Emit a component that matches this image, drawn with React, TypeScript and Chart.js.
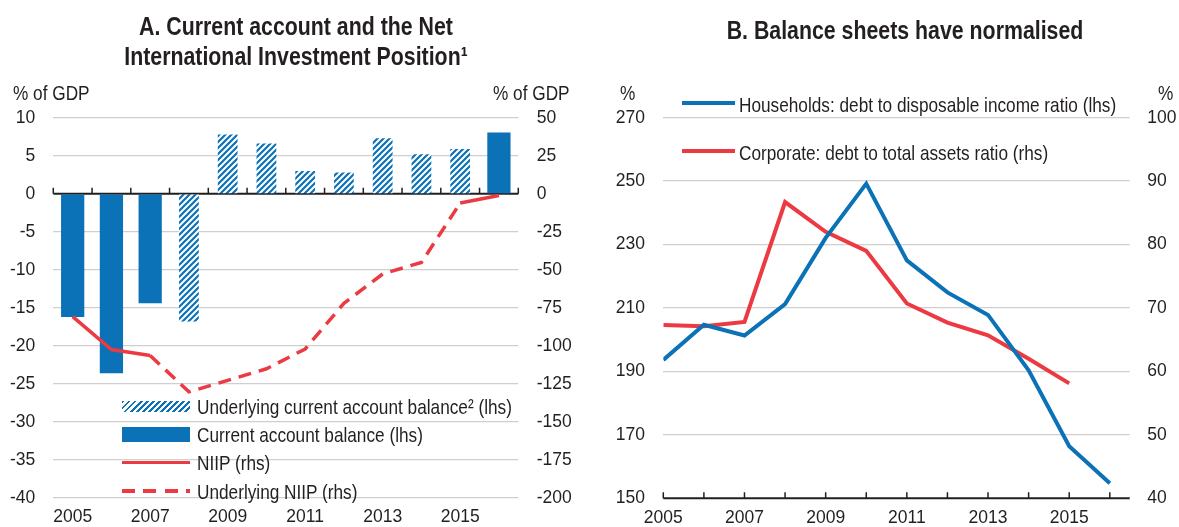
import React, { useEffect, useRef } from "react";
import { Chart, registerables } from "chart.js";

Chart.register(...registerables);

// ---------- Panel A data ----------
const yearsA = ["2005", "2006", "2007", "2008", "2009", "2010", "2011", "2012", "2013", "2014", "2015", "2016"];
const currentAccount = [-16.2, -23.6, -14.4, null, null, null, null, null, null, null, null, 8.05];
const underlyingCurrentAccount = [null, null, null, -16.8, 7.8, 6.6, 3.0, 2.8, 7.3, 5.2, 5.9, null];
const niip = [-80.7, -102.4, -106.3, null, null, null, null, null, null, null, -6.1, -1.1];
const underlyingNiip = [null, null, -106.3, -130.2, -122.6, -115.0, -102.0, -72.0, -52.7, -45.1, -6.1, null];
const leftTicksA = [-40, 10, 5]; // min, max, step
const rightTicksA = [-200, 50, 25];

// ---------- Panel B data ----------
const yearsB = [2005, 2006, 2007, 2008, 2009, 2010, 2011, 2012, 2013, 2014, 2015, 2016];
const households = [193.6, 204.7, 201.3, 211.2, 232.1, 249.2, 225.0, 214.9, 207.8, 190.3, 166.4, 154.7];
const corporate = [67.3, 67.1, 67.8, 86.7, 82.0, 79.0, 70.7, 67.7, 65.7, 62.0, 58.1];
const leftTicksB = [150, 270, 20];
const rightTicksB = [40, 100, 10];

const FONT = "'Liberation Sans', Arial, Helvetica, sans-serif";
const TICK_SIZE = 17.5;
const NARROW = 0.82;
const TEXT = "#231f20";
const BLUE = "#0b72b8";
const RED = "#ec3a42";
const GRID = "#cfcfcf";

function makeHatch(): CanvasPattern | string {
  const c = document.createElement("canvas");
  c.width = 6;
  c.height = 6;
  const g = c.getContext("2d");
  if (!g) return BLUE;
  g.fillStyle = "#ffffff";
  g.fillRect(0, 0, 6, 6);
  g.strokeStyle = BLUE;
  g.lineWidth = 2.2;
  g.beginPath();
  g.moveTo(-1, 7);
  g.lineTo(7, -1);
  g.moveTo(-1, 1);
  g.lineTo(1, -1);
  g.moveTo(5, 7);
  g.lineTo(7, 5);
  g.stroke();
  return g.createPattern(c, "repeat") || BLUE;
}

const zeroAxisPlugin = {
  id: "zeroAxisA",
  beforeDatasetsDraw(chart: any) {
    const { ctx, chartArea } = chart;
    const y = chart.scales.y.getPixelForValue(0);
    const xs = chart.scales.x;
    const n = yearsA.length;
    const step = (xs.right - xs.left) / n;
    ctx.save();
    ctx.strokeStyle = TEXT;
    ctx.lineWidth = 2;
    ctx.beginPath();
    ctx.moveTo(chartArea.left, y);
    ctx.lineTo(chartArea.right, y);
    ctx.stroke();
    ctx.lineWidth = 1.5;
    ctx.beginPath();
    for (let i = 0; i <= n; i++) {
      const x = xs.left + i * step;
      ctx.moveTo(x, y);
      ctx.lineTo(x, y - 6);
    }
    ctx.stroke();
    ctx.restore();
  },
};

const bottomAxisPlugin = {
  id: "bottomAxisB",
  beforeDatasetsDraw(chart: any) {
    const { ctx, chartArea } = chart;
    const xs = chart.scales.x;
    const y = chartArea.bottom;
    ctx.save();
    ctx.strokeStyle = TEXT;
    ctx.lineWidth = 2;
    ctx.beginPath();
    ctx.moveTo(chartArea.left, y);
    ctx.lineTo(chartArea.right, y);
    ctx.stroke();
    ctx.lineWidth = 1.5;
    ctx.beginPath();
    xs.ticks.forEach((t: any) => {
      const x = xs.getPixelForValue(t.value);
      ctx.moveTo(x, y);
      ctx.lineTo(x, y - 6);
    });
    ctx.stroke();
    ctx.restore();
  },
};

const tickFont = { family: FONT, size: TICK_SIZE };

function PanelA() {
  const ref = useRef<HTMLCanvasElement>(null);
  useEffect(() => {
    if (!ref.current) return;
    const hatch = makeHatch();
    const chart = new Chart(ref.current, {
      type: "bar",
      data: {
        labels: yearsA,
        datasets: [
          {
            type: "line",
            label: "NIIP (rhs)",
            data: niip,
            yAxisID: "yR",
            borderColor: RED,
            borderWidth: 3.5,
            pointRadius: 0,
            spanGaps: false,
            order: 0,
          } as any,
          {
            type: "line",
            label: "Underlying NIIP (rhs)",
            data: underlyingNiip,
            yAxisID: "yR",
            borderColor: RED,
            borderWidth: 3.5,
            borderDash: [13, 8],
            pointRadius: 0,
            spanGaps: false,
            order: 0,
          } as any,
          {
            type: "bar",
            label: "Current account balance (lhs)",
            data: currentAccount,
            yAxisID: "y",
            backgroundColor: BLUE,
            barPercentage: 0.6,
            categoryPercentage: 1,
            grouped: false,
            order: 1,
          } as any,
          {
            type: "bar",
            label: "Underlying current account balance² (lhs)",
            data: underlyingCurrentAccount,
            yAxisID: "y",
            backgroundColor: hatch,
            barPercentage: 0.51,
            categoryPercentage: 1,
            grouped: false,
            order: 1,
          } as any,
        ],
      },
      options: {
        responsive: false,
        animation: false,
        events: [],
        layout: { padding: { top: 117.7, left: 0, right: 0, bottom: 0 } },
        plugins: { legend: { display: false }, tooltip: { enabled: false } },
        scales: {
          x: {
            type: "category",
            offset: true,
            grid: { display: false, drawTicks: false },
            border: { display: false },
            ticks: {
              autoSkip: false,
              maxRotation: 0,
              padding: 9,
              color: TEXT,
              font: tickFont,
              callback: (_v: any, i: number) => (i % 2 === 0 ? yearsA[i] : ""),
            },
            afterFit: (s: any) => {
              s.height = 26.3;
            },
          },
          y: {
            position: "left",
            min: leftTicksA[0],
            max: leftTicksA[1],
            ticks: { stepSize: leftTicksA[2], padding: 18, color: TEXT, font: tickFont },
            grid: {
              drawTicks: false,
              lineWidth: 1.3,
              color: (c: any) => (c.tick && c.tick.value === 0 ? "rgba(0,0,0,0)" : GRID),
            },
            border: { display: false },
            afterFit: (s: any) => {
              s.width = 53.3;
            },
          },
          yR: {
            position: "right",
            min: rightTicksA[0],
            max: rightTicksA[1],
            ticks: { stepSize: rightTicksA[2], padding: 18.4, color: TEXT, font: tickFont },
            grid: { display: false, drawTicks: false },
            border: { display: false },
            afterFit: (s: any) => {
              s.width = 71.7;
            },
          },
        } as any,
      },
      plugins: [zeroAxisPlugin],
    });
    return () => chart.destroy();
  }, []);
  return (
    <canvas
      ref={ref}
      width={590}
      height={527}
      style={{ position: "absolute", left: 0, top: 0, width: 590, height: 527 }}
    />
  );
}

function PanelB() {
  const ref = useRef<HTMLCanvasElement>(null);
  useEffect(() => {
    if (!ref.current) return;
    const chart = new Chart(ref.current, {
      type: "line",
      data: {
        datasets: [
          {
            label: "Households: debt to disposable income ratio (lhs)",
            data: yearsB.map((x, i) => ({ x, y: households[i] })),
            yAxisID: "y",
            borderColor: BLUE,
            borderWidth: 4,
            pointRadius: 0,
          },
          {
            label: "Corporate: debt to total assets ratio (rhs)",
            data: corporate.map((v, i) => ({ x: yearsB[i], y: v })),
            yAxisID: "y2",
            borderColor: RED,
            borderWidth: 4,
            pointRadius: 0,
          },
        ],
      },
      options: {
        responsive: false,
        animation: false,
        events: [],
        layout: { padding: { top: 117.7, left: 0, right: 0, bottom: 0 } },
        plugins: { legend: { display: false }, tooltip: { enabled: false } },
        scales: {
          x: {
            type: "linear",
            min: yearsB[0],
            max: yearsB[yearsB.length - 1] + 0.49,
            grid: { display: false, drawTicks: false },
            border: { display: false },
            ticks: {
              stepSize: 1,
              includeBounds: false,
              autoSkip: false,
              maxRotation: 0,
              padding: 9,
              color: TEXT,
              font: tickFont,
              callback: (v: any) => (Number.isInteger(v) && v % 2 === 1 ? String(v) : ""),
            },
            afterFit: (s: any) => {
              s.height = 27;
            },
          },
          y: {
            position: "left",
            min: leftTicksB[0],
            max: leftTicksB[1],
            ticks: { stepSize: leftTicksB[2], padding: 18.3, color: TEXT, font: tickFont },
            grid: {
              drawTicks: false,
              lineWidth: 1.3,
              color: (c: any) => (c.tick && c.tick.value === leftTicksB[0] ? "rgba(0,0,0,0)" : GRID),
            },
            border: { display: false },
            afterFit: (s: any) => {
              s.width = 73.3;
            },
          },
          y2: {
            position: "right",
            min: rightTicksB[0],
            max: rightTicksB[1],
            ticks: { stepSize: rightTicksB[2], padding: 17.6, color: TEXT, font: tickFont },
            grid: { display: false, drawTicks: false },
            border: { display: false },
            afterFit: (s: any) => {
              s.width = 49.3;
            },
          },
        } as any,
      },
      plugins: [bottomAxisPlugin],
    });
    return () => chart.destroy();
  }, []);
  return (
    <canvas
      ref={ref}
      width={589}
      height={527}
      style={{ position: "absolute", left: 590, top: 0, width: 589, height: 527 }}
    />
  );
}

// left-aligned narrow text; baseline at `base`
const LS = 21;
const OFF = 17.8; // baseline offset for 21px text with 21px line-height
function Txt(props: { left: number; base: number; children: React.ReactNode }) {
  return (
    <div
      style={{
        position: "absolute",
        left: props.left,
        top: props.base - OFF,
        fontSize: LS,
        lineHeight: `${LS}px`,
        whiteSpace: "nowrap",
        color: TEXT,
        fontFamily: FONT,
        transform: `scaleX(${NARROW})`,
        transformOrigin: "0 0",
      }}
    >
      {props.children}
    </div>
  );
}

function Title(props: { cx: number; top: number; children: React.ReactNode }) {
  return (
    <div
      style={{
        position: "absolute",
        left: props.cx,
        top: props.top,
        textAlign: "center",
        fontSize: 26,
        lineHeight: "30.7px",
        fontWeight: "bold",
        color: TEXT,
        fontFamily: FONT,
        whiteSpace: "nowrap",
        transform: `translateX(-50%) scaleX(${NARROW})`,
      }}
    >
      {props.children}
    </div>
  );
}

export default function App() {
  return (
    <div
      style={{
        position: "absolute",
        left: 0,
        top: 0,
        width: 1179,
        height: 527,
        overflow: "hidden",
        background: "#ffffff",
        fontFamily: FONT,
      }}
    >
      <PanelA />
      <PanelB />

      <Title cx={296} top={10.6}>
        A. Current account and the Net
        <br />
        International Investment Position¹
      </Title>
      <Title cx={904.5} top={14.9}>
        B. Balance sheets have normalised
      </Title>

      {/* Axis unit labels */}
      <Txt left={13.3} base={100}>% of GDP</Txt>
      <Txt left={492.7} base={100}>% of GDP</Txt>
      <Txt left={620} base={100}>%</Txt>
      <Txt left={1158} base={100}>%</Txt>

      {/* Panel A legend */}
      <div
        style={{
          position: "absolute",
          left: 121.7,
          top: 400.7,
          width: 68,
          height: 11,
          background: `repeating-linear-gradient(135deg, ${BLUE} 0px, ${BLUE} 2px, #ffffff 2px, #ffffff 4.3px)`,
        }}
      />
      <Txt left={196.7} base={413.5}>Underlying current account balance² (lhs)</Txt>
      <div style={{ position: "absolute", left: 121.7, top: 427.3, width: 68, height: 14.4, background: BLUE }} />
      <Txt left={196.7} base={441.5}>Current account balance (lhs)</Txt>
      <div style={{ position: "absolute", left: 121.7, top: 460.5, width: 68, height: 3.5, background: RED }} />
      <Txt left={196.7} base={470}>NIIP (rhs)</Txt>
      <div
        style={{
          position: "absolute",
          left: 121.7,
          top: 489.2,
          width: 68,
          height: 3.5,
          background: `repeating-linear-gradient(90deg, ${RED} 0px, ${RED} 13px, transparent 13px, transparent 21.5px)`,
        }}
      />
      <Txt left={196.7} base={498.3}>Underlying NIIP (rhs)</Txt>

      {/* Panel B legend */}
      <div style={{ position: "absolute", left: 682.3, top: 101.3, width: 52.7, height: 4, background: BLUE }} />
      <Txt left={739.3} base={111.7}>Households: debt to disposable income ratio (lhs)</Txt>
      <div style={{ position: "absolute", left: 682.3, top: 149, width: 52.7, height: 4, background: RED }} />
      <Txt left={739.3} base={159.3}>Corporate: debt to total assets ratio (rhs)</Txt>
    </div>
  );
}
